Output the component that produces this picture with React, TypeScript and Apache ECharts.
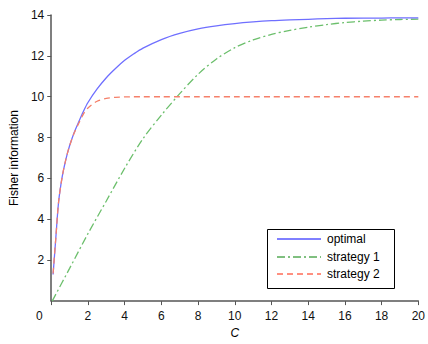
import React, { useEffect, useRef } from "react";
import * as echarts from "echarts";

const cValues = [0.1, 0.25, 0.4, 0.6, 0.8, 1.0, 1.25, 1.5, 1.75, 2, 2.5, 3, 3.5, 4, 4.5, 5, 6, 7, 8, 9, 10, 11, 12, 13, 14, 15, 16, 17, 18, 19, 20];
const optimal = [1.3, 3.1, 4.85, 6.1, 6.95, 7.6, 8.25, 8.78, 9.28, 9.72, 10.38, 10.93, 11.38, 11.78, 12.1, 12.38, 12.8, 13.1, 13.32, 13.47, 13.58, 13.66, 13.72, 13.76, 13.79, 13.82, 13.84, 13.85, 13.85, 13.86, 13.86];
const strategy2 = [1.35, 3.1, 4.85, 6.1, 6.95, 7.6, 8.22, 8.7, 9.15, 9.45, 9.78, 9.92, 9.97, 9.99, 10, 10, 10, 10, 10, 10, 10, 10, 10, 10, 10, 10, 10, 10, 10, 10, 10];
const c1Values = [0.05, 1, 2, 3, 4, 5, 6, 7, 8, 9, 10, 11, 12, 13, 14, 15, 16, 17, 18, 19, 20];
const strategy1 = [0, 1.6, 3.3, 4.9, 6.5, 7.95, 9.1, 10.15, 11.1, 11.85, 12.4, 12.78, 13.05, 13.25, 13.4, 13.53, 13.63, 13.7, 13.75, 13.78, 13.8];

const seriesNames = ["optimal", "strategy 1", "strategy 2"];
const legendColors = ["#0000ff", "#008000", "#ff2000"];
const plotColors = ["#6f6fff", "#6cbf6c", "#f5806a"];

const FONT = "'Liberation Sans', Arial, Helvetica, sans-serif";

export default function App() {
  const ref = useRef<HTMLDivElement>(null);
  useEffect(() => {
    if (!ref.current) return;
    const chart = echarts.init(ref.current, undefined, { renderer: "svg" });
    const pairs = (xs: number[], ys: number[]) => xs.map((x, i) => [x, ys[i]]);
    const dashTypes: any[] = ["solid", [8, 3, 2, 3], [6, 4]];
    const legendX0 = 277, legendX1 = 321, legendTextX = 327;
    const rowsY = [239, 257, 274];
    const legendGraphics: any[] = [
      {
        type: "rect",
        shape: { x: 267.5, y: 229.5, width: 127, height: 59 },
        style: { fill: "#fff", stroke: "#000", lineWidth: 1 },
        z: 10,
      },
    ];
    seriesNames.forEach((n, i) => {
      legendGraphics.push({
        type: "line",
        shape: { x1: legendX0, y1: rowsY[i], x2: legendX1, y2: rowsY[i] },
        style: { stroke: legendColors[i], lineWidth: 1, lineDash: i === 0 ? null : dashTypes[i] },
        z: 11,
      });
      legendGraphics.push({
        type: "text",
        x: legendTextX,
        y: rowsY[i],
        style: { text: n, fill: "#000", font: `12px ${FONT}`, textVerticalAlign: "middle", verticalAlign: "middle" },
        z: 11,
      });
    });
    chart.setOption({
      animation: false,
      textStyle: { fontFamily: FONT },
      grid: { left: 49, right: 7, top: 15, bottom: 35 },
      xAxis: {
        type: "value",
        min: 0,
        max: 20,
        interval: 2,
        name: "C",
        nameLocation: "middle",
        nameGap: 24,
        nameTextStyle: { fontStyle: "italic", fontSize: 12, color: "#000", fontFamily: FONT },
        axisLine: { lineStyle: { color: "#555", width: 1.5 } },
        axisTick: { inside: false, length: 4, lineStyle: { color: "#555" } },
        splitLine: { show: false },
        axisLabel: {
          color: "#111",
          fontSize: 12,
          margin: 9,
          fontFamily: FONT,
          formatter: (v: number) => (v === 0 ? "{z|0}" : String(v)),
          rich: { z: { padding: [0, 24, 0, 0], fontSize: 12, color: "#111", fontFamily: FONT } },
        },
      },
      yAxis: {
        type: "value",
        min: 0,
        max: 14,
        interval: 2,
        name: "Fisher information",
        nameLocation: "middle",
        nameGap: 26,
        nameTextStyle: { fontSize: 12, color: "#000", fontFamily: FONT },
        axisLine: { show: true, lineStyle: { color: "#555", width: 1.5 } },
        axisTick: { show: true, inside: false, length: 4, lineStyle: { color: "#555" } },
        splitLine: { show: false },
        axisLabel: {
          color: "#111",
          fontSize: 12,
          margin: 7,
          fontFamily: FONT,
          showMinLabel: false,
          formatter: (v: number) => (v === 0 ? "" : String(v)),
        },
      },
      series: [
        {
          name: seriesNames[0],
          type: "line",
          data: pairs(cValues, optimal),
          showSymbol: false,
          smooth: 0.3,
          lineStyle: { color: plotColors[0], width: 1.3, type: "solid" },
          z: 3,
        },
        {
          name: seriesNames[1],
          type: "line",
          data: pairs(c1Values, strategy1),
          showSymbol: false,
          smooth: 0.3,
          lineStyle: { color: plotColors[1], width: 1.3, type: dashTypes[1] },
          z: 2,
        },
        {
          name: seriesNames[2],
          type: "line",
          data: pairs(cValues, strategy2),
          showSymbol: false,
          smooth: 0.3,
          lineStyle: { color: plotColors[2], width: 1.3, type: dashTypes[2] },
          z: 4,
        },
      ],
      graphic: legendGraphics,
    });
    return () => chart.dispose();
  }, []);
  return <div ref={ref} style={{ width: 428, height: 344, position: "absolute", left: 0, top: 0, background: "#fff" }} />;
}
